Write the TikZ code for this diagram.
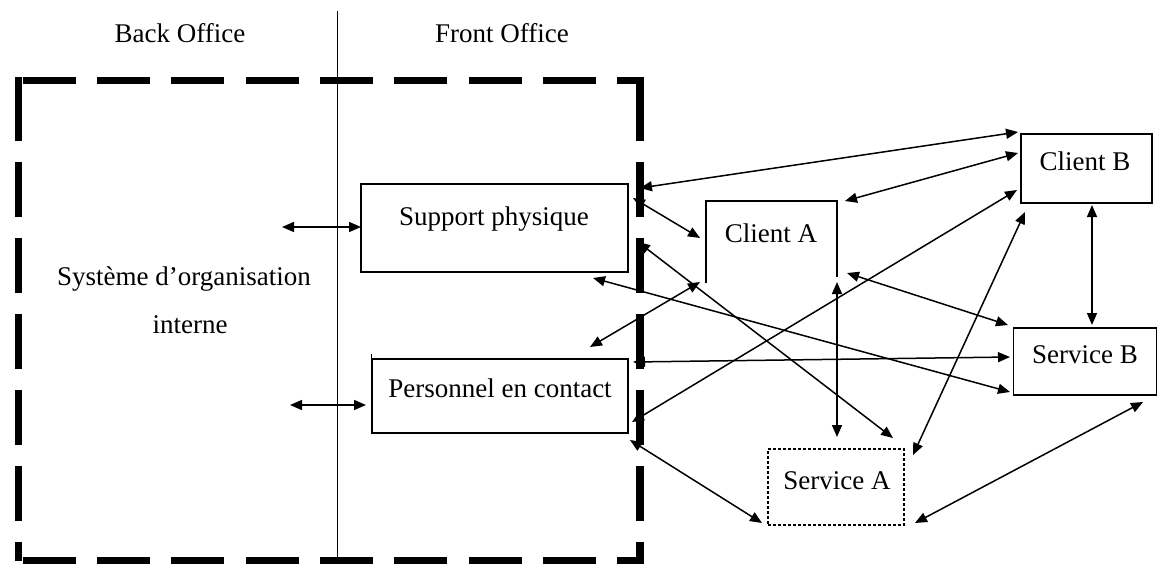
\documentclass[tikz,border=0pt]{standalone}
\usepackage{fontspec}
\setmainfont{Liberation Serif}
\usetikzlibrary{arrows.meta}
\begin{document}
\begin{tikzpicture}[x=1pt,y=-1pt,
  box/.style={draw, line width=1.5pt, inner sep=0pt},
  lbl/.style={anchor=base, inner sep=0pt, font=\fontsize{27}{32}\selectfont},
  link/.style={line width=1.5pt, {Triangle[length=12pt,width=10pt]}-{Triangle[length=12pt,width=10pt]}},
  frontv/.style={line width=7.5pt, dash pattern=on 55pt off 21pt, dash phase=70.5pt},
  fronth/.style={line width=7.5pt, dash pattern=on 53pt off 21.3pt, dash phase=65.6pt},
  frontc/.style={line width=7.5pt}
]
\useasboundingbox (0,0) rectangle (1159,563);

% headings and separator
\node[lbl] (back) at (180,42) {Back Office};
\node[lbl] (front) at (502,42) {Front Office};
\coordinate (septop) at (337.5,11);
\coordinate (sepbot) at (337.5,563);
\draw[line width=1.4pt] (septop) -- (sepbot);

% thick dashed frontier
\coordinate (fTL) at (18.5,80.5);
\coordinate (fTR) at (640,80.5);
\coordinate (fBL) at (18.5,561);
\coordinate (fBR) at (640,561);
\draw[fronth] ([xshift=-4.5pt]fTL) -- ([xshift=3.75pt]fTR);
\draw[fronth] ([xshift=-4.5pt]fBL) -- ([xshift=3.75pt]fBR);
\draw[frontv] (fTL) -- (fBL);
\draw[frontv] (fTR) -- (fBR);
\draw[frontc] ([yshift=3.75pt]fTL) -- ++(0,63.5);
\draw[frontc] ([yshift=3.75pt]fTR) -- ++(0,63);

% internal system
\node[lbl] (sys1) at (184,285) {Système d’organisation};
\node[lbl] (sys2) at (190,333) {interne};

% boxes
\node[box, minimum width=267pt, minimum height=88pt] (sp) at (494.5,228) {};
\node[lbl] (sptxt) at (494,225) {Support physique};

\node[box, minimum width=256pt, minimum height=74pt] (pc) at (500,396) {};
\draw[line width=1.5pt] (pc.north west) -- ++(0,-4);
\node[lbl] (pctxt) at (500,397) {Personnel en contact};

\node[minimum width=131pt, minimum height=82pt, inner sep=0pt] (ca) at (771.5,242) {};
\draw[line width=1.5pt] (ca.south west) -- (ca.north west) -- (ca.north east) -- ([yshift=6pt]ca.south east);
\node[lbl] (catxt) at (771,242) {Client A};

\node[box, minimum width=131pt, minimum height=69pt] (cb) at (1086.5,168.5) {};
\node[lbl] (cbtxt) at (1085,170) {Client B};

\node[box, minimum width=143pt, minimum height=67pt] (sb) at (1085,361.5) {};
\node[lbl] (sbtxt) at (1085,363) {Service B};

\node[draw, line width=1.2pt, dash pattern=on 3pt off 2pt, inner sep=0pt, minimum width=136pt, minimum height=76pt] (sa) at (836,487) {};
\node[lbl] (satxt) at (837,489) {Service A};

% connector end points
\coordinate (sys-sp) at (282,227);
\coordinate (sp-sys) at (361,227);
\coordinate (sys-pc) at (290,405);
\coordinate (pc-sys) at (366,405);
\coordinate (sp-cb) at (640,188);
\coordinate (cb-sp) at (1018,132);
\coordinate (sp-ca) at (633,198);
\coordinate (ca-sp) at (700,238);
\coordinate (ca-cb) at (845,201);
\coordinate (cb-ca) at (1018,153);
\coordinate (sp-sa) at (638,242);
\coordinate (sa-sp) at (893,438);
\coordinate (sp-sb) at (593,278);
\coordinate (sb-sp) at (1010,392);
\coordinate (ca-sb) at (847,273);
\coordinate (sb-ca) at (1008,325);
\coordinate (pc-sb) at (633,362);
\coordinate (sb-pc) at (1010,357);
\coordinate (pc-ca) at (590,347);
\coordinate (ca-pc) at (700,282);
\coordinate (pc-cb) at (632,422);
\coordinate (cb-pc) at (1017,190);
\coordinate (ca-sa) at (837,282);
\coordinate (sa-ca) at (837,437);
\coordinate (sa-cb) at (913,455);
\coordinate (cb-sa) at (1025,212);
\coordinate (sa-sb) at (915,523);
\coordinate (sb-sa) at (1143,402);
\coordinate (pc-sa) at (630,440);
\coordinate (sa-pc) at (762,523);
\coordinate (cb-sb) at (1092,205);
\coordinate (sb-cb) at (1092,325);

% connectors
\draw[link] (sys-sp) -- (sp-sys);
\draw[link] (sys-pc) -- (pc-sys);
\draw[link] (sp-cb) -- (cb-sp);
\draw[link] (sp-ca) -- (ca-sp);
\draw[link] (ca-cb) -- (cb-ca);
\draw[link] (sp-sa) -- (sa-sp);
\draw[link] (sp-sb) -- (sb-sp);
\draw[link] (ca-sb) -- (sb-ca);
\draw[link] (pc-sb) -- (sb-pc);
\draw[link] (pc-ca) -- (ca-pc);
\draw[link] (pc-cb) -- (cb-pc);
\draw[link] (ca-sa) -- (sa-ca);
\draw[link] (sa-cb) -- (cb-sa);
\draw[link] (sa-sb) -- (sb-sa);
\draw[link] (pc-sa) -- (sa-pc);
\draw[link] (cb-sb) -- (sb-cb);
\end{tikzpicture}
\end{document}
